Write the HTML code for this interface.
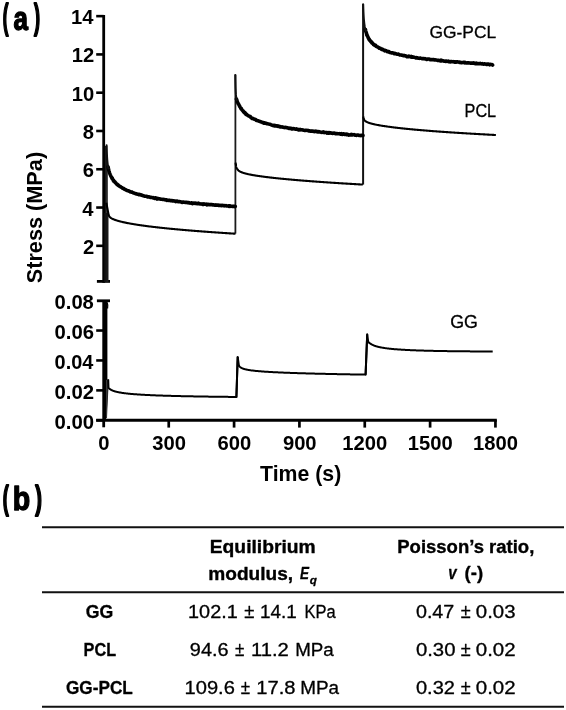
<!DOCTYPE html>
<html><head><meta charset="utf-8"><style>
html,body{margin:0;padding:0;background:#fff;}
body{width:566px;height:710px;overflow:hidden;}
svg{position:absolute;left:0;top:0;filter:grayscale(1) blur(0.3px);}
text{fill:#000;font-family:"Liberation Sans",sans-serif;}
</style></head><body>
<svg width="566" height="710" viewBox="0 0 566 710">
<line x1="103.7" y1="14.9" x2="103.7" y2="282.8" stroke="#000" stroke-width="2.8"/>
<line x1="96.2" y1="16.14" x2="103.7" y2="16.14" stroke="#000" stroke-width="2.6"/>
<line x1="96.2" y1="54.42" x2="103.7" y2="54.42" stroke="#000" stroke-width="2.6"/>
<line x1="96.2" y1="92.70" x2="103.7" y2="92.70" stroke="#000" stroke-width="2.6"/>
<line x1="96.2" y1="130.98" x2="103.7" y2="130.98" stroke="#000" stroke-width="2.6"/>
<line x1="96.2" y1="169.26" x2="103.7" y2="169.26" stroke="#000" stroke-width="2.6"/>
<line x1="96.2" y1="207.54" x2="103.7" y2="207.54" stroke="#000" stroke-width="2.6"/>
<line x1="96.2" y1="245.82" x2="103.7" y2="245.82" stroke="#000" stroke-width="2.6"/>
<line x1="96.9" y1="281.4" x2="110" y2="281.4" stroke="#000" stroke-width="2.8"/>
<line x1="103.7" y1="300.8" x2="103.7" y2="427.3" stroke="#000" stroke-width="2.8"/>
<line x1="96.9" y1="300.8" x2="110" y2="300.8" stroke="#000" stroke-width="2.8"/>
<line x1="96.2" y1="330.53" x2="103.7" y2="330.53" stroke="#000" stroke-width="2.6"/>
<line x1="96.2" y1="360.45" x2="103.7" y2="360.45" stroke="#000" stroke-width="2.6"/>
<line x1="96.2" y1="390.38" x2="103.7" y2="390.38" stroke="#000" stroke-width="2.6"/>
<line x1="96.2" y1="420.30" x2="103.7" y2="420.30" stroke="#000" stroke-width="2.6"/>
<line x1="96.2" y1="420.3" x2="496.84" y2="420.3" stroke="#000" stroke-width="3.0"/>
<line x1="168.74" y1="420" x2="168.74" y2="427.6" stroke="#000" stroke-width="2.7"/>
<line x1="234.08" y1="420" x2="234.08" y2="427.6" stroke="#000" stroke-width="2.7"/>
<line x1="299.42" y1="420" x2="299.42" y2="427.6" stroke="#000" stroke-width="2.7"/>
<line x1="364.76" y1="420" x2="364.76" y2="427.6" stroke="#000" stroke-width="2.7"/>
<line x1="430.10" y1="420" x2="430.10" y2="427.6" stroke="#000" stroke-width="2.7"/>
<line x1="495.44" y1="420" x2="495.44" y2="427.6" stroke="#000" stroke-width="2.7"/>
<rect x="105" y="146" width="2.6" height="136" fill="#8a8a8a"/>
<line x1="105.6" y1="146" x2="105.6" y2="282" stroke="#111" stroke-width="1.0"/>
<line x1="107.3" y1="158" x2="107.3" y2="282" stroke="#222" stroke-width="0.9"/>
<rect x="104.5" y="213" width="4" height="69" fill="#1a1a1a"/>
<rect x="104.5" y="301" width="2.9" height="80" fill="#000"/>
<rect x="104.5" y="380" width="1.7" height="40" fill="#000"/>
<path d="M106,380 L108.8,379 L106.4,418 L106,418 Z" fill="#3a3a3a"/>
<line x1="108.3" y1="379.5" x2="106.5" y2="418" stroke="#222" stroke-width="0.9"/>
<path d="M107.2,302.5 Q108.2,305 107.6,308.5" fill="none" stroke="#000" stroke-width="1.2"/>
<line x1="235.4" y1="233.6" x2="235.4" y2="74.6" stroke="#1a1a1a" stroke-width="1.8"/>
<line x1="363.1" y1="184.6" x2="363.1" y2="4.0" stroke="#111" stroke-width="2.0"/>
<line x1="105.7" y1="282" x2="106.5" y2="145.3" stroke="#111" stroke-width="1.0"/>
<line x1="236.4" y1="397.4" x2="237.7" y2="356.9" stroke="#000" stroke-width="2"/>
<line x1="365.6" y1="374.8" x2="367.2" y2="334.3" stroke="#000" stroke-width="2"/>
<path d="M106.3,202.7 L108.60,214.63 108.84,215.47 109.09,216.02 109.20,216.22 109.33,216.43 109.58,216.76 109.80,217.01 109.82,217.04 110.07,217.28 110.31,217.49 110.40,217.56 110.56,217.69 110.80,217.87 111.00,218.00 111.05,218.03 111.29,218.19 111.54,218.33 111.60,218.37 111.78,218.47 112.03,218.60 112.20,218.69 112.27,218.73 112.52,218.85 112.76,218.96 112.80,218.98 113.01,219.07 113.25,219.18 113.40,219.25 113.50,219.29 113.74,219.39 113.99,219.49 114.00,219.49 114.23,219.58 114.48,219.68 114.60,219.72 114.72,219.77 114.97,219.86 115.20,219.94 115.21,219.95 115.46,220.03 115.70,220.12 115.80,220.15 115.95,220.20 116.19,220.28 116.40,220.35 116.44,220.36 116.68,220.44 116.93,220.51 117.00,220.53 117.17,220.59 117.42,220.66 117.60,220.72 117.66,220.73 117.91,220.81 118.15,220.88 118.20,220.89 118.40,220.95 118.64,221.01 118.80,221.06 118.89,221.08 119.13,221.15 119.38,221.21 119.40,221.22 119.62,221.28 119.87,221.34 120.00,221.38 120.11,221.41 120.36,221.47 120.60,221.53 121.20,221.68 121.80,221.83 122.40,221.97 123.00,222.11 123.60,222.24 124.20,222.37 124.80,222.50 125.40,222.63 126.00,222.75 126.60,222.87 127.20,222.99 127.80,223.11 128.40,223.23 129.00,223.34 129.60,223.45 130.20,223.56 130.80,223.67 131.40,223.77 132.00,223.88 132.60,223.98 133.20,224.08 133.80,224.18 134.40,224.28 135.00,224.38 135.60,224.48 136.20,224.57 136.80,224.67 137.40,224.76 138.00,224.85 138.60,224.94 139.20,225.03 139.80,225.12 140.40,225.21 141.00,225.29 141.60,225.38 142.20,225.46 142.80,225.55 143.40,225.63 144.00,225.71 144.60,225.79 145.20,225.87 145.80,225.95 146.40,226.03 147.00,226.11 147.60,226.19 148.20,226.27 148.80,226.34 149.40,226.42 150.00,226.49 150.60,226.57 151.20,226.64 151.80,226.71 152.40,226.79 153.00,226.86 153.60,226.93 154.20,227.00 154.80,227.07 155.40,227.14 156.00,227.21 156.60,227.28 157.20,227.35 157.80,227.41 158.40,227.48 159.00,227.55 159.60,227.61 160.20,227.68 160.80,227.74 161.40,227.81 162.00,227.87 162.60,227.94 163.20,228.00 163.80,228.06 164.40,228.13 165.00,228.19 165.60,228.25 166.20,228.31 166.80,228.37 167.40,228.43 168.00,228.49 168.60,228.55 169.20,228.61 169.80,228.67 170.40,228.73 171.00,228.79 171.60,228.85 172.20,228.90 172.80,228.96 173.40,229.02 174.00,229.08 174.60,229.13 175.20,229.19 175.80,229.24 176.40,229.30 177.00,229.36 177.60,229.41 178.20,229.46 178.80,229.52 179.40,229.57 180.00,229.63 180.60,229.68 181.20,229.73 181.80,229.79 182.40,229.84 183.00,229.89 183.60,229.94 184.20,230.00 184.80,230.05 185.40,230.10 186.00,230.15 186.60,230.20 187.20,230.25 187.80,230.30 188.40,230.35 189.00,230.40 189.60,230.45 190.20,230.50 190.80,230.55 191.40,230.60 192.00,230.65 192.60,230.70 193.20,230.75 193.80,230.79 194.40,230.84 195.00,230.89 195.60,230.94 196.20,230.99 196.80,231.03 197.40,231.08 198.00,231.13 198.60,231.17 199.20,231.22 199.80,231.27 200.40,231.31 201.00,231.36 201.60,231.40 202.20,231.45 202.80,231.49 203.40,231.54 204.00,231.58 204.60,231.63 205.20,231.67 205.80,231.72 206.40,231.76 207.00,231.81 207.60,231.85 208.20,231.89 208.80,231.94 209.40,231.98 210.00,232.02 210.60,232.07 211.20,232.11 211.80,232.15 212.40,232.19 213.00,232.24 213.60,232.28 214.20,232.32 214.80,232.36 215.40,232.40 216.00,232.45 216.60,232.49 217.20,232.53 217.80,232.57 218.40,232.61 219.00,232.65 219.60,232.69 220.20,232.73 220.80,232.77 221.40,232.81 222.00,232.85 222.60,232.89 223.20,232.93 223.80,232.97 224.40,233.01 225.00,233.05 225.60,233.09 226.20,233.13 226.80,233.17 227.40,233.21 228.00,233.25 228.60,233.29 229.20,233.33 229.80,233.37 230.40,233.40 231.00,233.44 231.60,233.48 232.20,233.52 232.80,233.56 233.40,233.59 234.00,233.63 234.60,233.67 235.20,233.71 235.50,233.73 M235.60,162.55 235.84,164.77 236.09,166.13 236.20,166.60 236.33,167.08 236.58,167.79 236.80,168.31 236.82,168.36 237.07,168.82 237.31,169.21 237.40,169.33 237.56,169.54 237.80,169.83 238.00,170.04 238.05,170.09 238.29,170.33 238.54,170.54 238.60,170.59 238.78,170.73 239.03,170.91 239.20,171.03 239.27,171.08 239.52,171.24 239.76,171.38 239.80,171.40 240.01,171.52 240.25,171.65 240.40,171.72 240.50,171.77 240.74,171.89 240.99,172.00 241.00,172.01 241.23,172.11 241.48,172.21 241.60,172.26 241.72,172.31 241.97,172.41 242.20,172.49 242.21,172.50 242.46,172.59 242.70,172.67 242.80,172.71 242.95,172.76 243.19,172.84 243.40,172.90 243.44,172.92 243.68,172.99 243.93,173.07 244.00,173.09 244.17,173.14 244.42,173.21 244.60,173.27 244.66,173.28 244.91,173.35 245.15,173.42 245.20,173.43 245.40,173.48 245.64,173.55 245.80,173.59 245.89,173.61 246.13,173.67 246.38,173.73 246.40,173.74 246.62,173.79 246.87,173.85 247.00,173.88 247.11,173.91 247.36,173.97 247.60,174.02 248.20,174.16 248.80,174.29 249.40,174.41 250.00,174.53 250.60,174.65 251.20,174.77 251.80,174.88 252.40,174.99 253.00,175.09 253.60,175.20 254.20,175.30 254.80,175.40 255.40,175.50 256.00,175.59 256.60,175.69 257.20,175.78 257.80,175.87 258.40,175.96 259.00,176.05 259.60,176.13 260.20,176.22 260.80,176.30 261.40,176.39 262.00,176.47 262.60,176.55 263.20,176.63 263.80,176.71 264.40,176.79 265.00,176.86 265.60,176.94 266.20,177.01 266.80,177.09 267.40,177.16 268.00,177.24 268.60,177.31 269.20,177.38 269.80,177.45 270.40,177.52 271.00,177.59 271.60,177.66 272.20,177.72 272.80,177.79 273.40,177.86 274.00,177.92 274.60,177.99 275.20,178.05 275.80,178.12 276.40,178.18 277.00,178.24 277.60,178.31 278.20,178.37 278.80,178.43 279.40,178.49 280.00,178.55 280.60,178.61 281.20,178.67 281.80,178.73 282.40,178.79 283.00,178.85 283.60,178.91 284.20,178.97 284.80,179.02 285.40,179.08 286.00,179.14 286.60,179.19 287.20,179.25 287.80,179.30 288.40,179.36 289.00,179.41 289.60,179.47 290.20,179.52 290.80,179.58 291.40,179.63 292.00,179.68 292.60,179.74 293.20,179.79 293.80,179.84 294.40,179.89 295.00,179.95 295.60,180.00 296.20,180.05 296.80,180.10 297.40,180.15 298.00,180.20 298.60,180.25 299.20,180.30 299.80,180.35 300.40,180.40 301.00,180.45 301.60,180.50 302.20,180.54 302.80,180.59 303.40,180.64 304.00,180.69 304.60,180.74 305.20,180.78 305.80,180.83 306.40,180.88 307.00,180.92 307.60,180.97 308.20,181.02 308.80,181.06 309.40,181.11 310.00,181.15 310.60,181.20 311.20,181.25 311.80,181.29 312.40,181.34 313.00,181.38 313.60,181.42 314.20,181.47 314.80,181.51 315.40,181.56 316.00,181.60 316.60,181.64 317.20,181.69 317.80,181.73 318.40,181.77 319.00,181.82 319.60,181.86 320.20,181.90 320.80,181.94 321.40,181.99 322.00,182.03 322.60,182.07 323.20,182.11 323.80,182.15 324.40,182.19 325.00,182.23 325.60,182.28 326.20,182.32 326.80,182.36 327.40,182.40 328.00,182.44 328.60,182.48 329.20,182.52 329.80,182.56 330.40,182.60 331.00,182.64 331.60,182.68 332.20,182.72 332.80,182.76 333.40,182.80 334.00,182.84 334.60,182.87 335.20,182.91 335.80,182.95 336.40,182.99 337.00,183.03 337.60,183.07 338.20,183.10 338.80,183.14 339.40,183.18 340.00,183.22 340.60,183.26 341.20,183.29 341.80,183.33 342.40,183.37 343.00,183.41 343.60,183.44 344.20,183.48 344.80,183.52 345.40,183.55 346.00,183.59 346.60,183.63 347.20,183.66 347.80,183.70 348.40,183.73 349.00,183.77 349.60,183.81 350.20,183.84 350.80,183.88 351.40,183.91 352.00,183.95 352.60,183.98 353.20,184.02 353.80,184.05 354.40,184.09 355.00,184.12 355.60,184.16 356.20,184.19 356.80,184.23 357.40,184.26 358.00,184.30 358.60,184.33 359.20,184.37 359.80,184.40 360.40,184.44 361.00,184.47 361.60,184.50 362.20,184.54 362.80,184.57 362.90,184.58 M363.4,116.6 L363.50,117.66 363.74,118.70 363.99,119.35 364.10,119.57 364.23,119.82 364.48,120.18 364.70,120.45 364.72,120.48 364.97,120.73 365.21,120.95 365.30,121.02 365.46,121.15 365.70,121.32 365.90,121.45 365.95,121.49 366.19,121.63 366.44,121.77 366.50,121.81 366.68,121.90 366.93,122.02 367.10,122.10 367.17,122.14 367.42,122.25 367.66,122.35 367.70,122.37 367.91,122.45 368.15,122.55 368.30,122.61 368.40,122.64 368.64,122.73 368.89,122.82 368.90,122.82 369.13,122.90 369.38,122.99 369.50,123.03 369.62,123.06 369.87,123.14 370.10,123.21 370.11,123.22 370.36,123.29 370.60,123.36 370.70,123.39 370.85,123.43 371.09,123.50 371.30,123.56 371.34,123.57 371.58,123.64 371.83,123.70 371.90,123.72 372.07,123.76 372.32,123.83 372.50,123.87 372.56,123.89 372.81,123.95 373.05,124.01 373.10,124.02 373.30,124.07 373.54,124.12 373.70,124.16 373.79,124.18 374.03,124.24 374.28,124.29 374.30,124.30 374.52,124.35 374.77,124.40 374.90,124.43 375.01,124.45 375.26,124.50 375.50,124.56 376.10,124.68 376.70,124.80 377.30,124.92 377.90,125.03 378.50,125.14 379.10,125.25 379.70,125.36 380.30,125.47 380.90,125.57 381.50,125.67 382.10,125.77 382.70,125.86 383.30,125.96 383.90,126.05 384.50,126.14 385.10,126.23 385.70,126.32 386.30,126.41 386.90,126.50 387.50,126.58 388.10,126.67 388.70,126.75 389.30,126.83 389.90,126.91 390.50,126.99 391.10,127.07 391.70,127.15 392.30,127.22 392.90,127.30 393.50,127.37 394.10,127.45 394.70,127.52 395.30,127.59 395.90,127.66 396.50,127.73 397.10,127.81 397.70,127.87 398.30,127.94 398.90,128.01 399.50,128.08 400.10,128.15 400.70,128.21 401.30,128.28 401.90,128.34 402.50,128.41 403.10,128.47 403.70,128.53 404.30,128.60 404.90,128.66 405.50,128.72 406.10,128.78 406.70,128.84 407.30,128.90 407.90,128.96 408.50,129.02 409.10,129.08 409.70,129.14 410.30,129.19 410.90,129.25 411.50,129.31 412.10,129.37 412.70,129.42 413.30,129.48 413.90,129.53 414.50,129.59 415.10,129.64 415.70,129.70 416.30,129.75 416.90,129.80 417.50,129.86 418.10,129.91 418.70,129.96 419.30,130.01 419.90,130.07 420.50,130.12 421.10,130.17 421.70,130.22 422.30,130.27 422.90,130.32 423.50,130.37 424.10,130.42 424.70,130.47 425.30,130.52 425.90,130.57 426.50,130.62 427.10,130.66 427.70,130.71 428.30,130.76 428.90,130.81 429.50,130.85 430.10,130.90 430.70,130.95 431.30,131.00 431.90,131.04 432.50,131.09 433.10,131.13 433.70,131.18 434.30,131.22 434.90,131.27 435.50,131.31 436.10,131.36 436.70,131.40 437.30,131.45 437.90,131.49 438.50,131.53 439.10,131.58 439.70,131.62 440.30,131.66 440.90,131.71 441.50,131.75 442.10,131.79 442.70,131.84 443.30,131.88 443.90,131.92 444.50,131.96 445.10,132.00 445.70,132.04 446.30,132.09 446.90,132.13 447.50,132.17 448.10,132.21 448.70,132.25 449.30,132.29 449.90,132.33 450.50,132.37 451.10,132.41 451.70,132.45 452.30,132.49 452.90,132.53 453.50,132.57 454.10,132.61 454.70,132.64 455.30,132.68 455.90,132.72 456.50,132.76 457.10,132.80 457.70,132.84 458.30,132.87 458.90,132.91 459.50,132.95 460.10,132.99 460.70,133.02 461.30,133.06 461.90,133.10 462.50,133.14 463.10,133.17 463.70,133.21 464.30,133.25 464.90,133.28 465.50,133.32 466.10,133.36 466.70,133.39 467.30,133.43 467.90,133.46 468.50,133.50 469.10,133.53 469.70,133.57 470.30,133.60 470.90,133.64 471.50,133.68 472.10,133.71 472.70,133.74 473.30,133.78 473.90,133.81 474.50,133.85 475.10,133.88 475.70,133.92 476.30,133.95 476.90,133.99 477.50,134.02 478.10,134.05 478.70,134.09 479.30,134.12 479.90,134.15 480.50,134.19 481.10,134.22 481.70,134.25 482.30,134.29 482.90,134.32 483.50,134.35 484.10,134.39 484.70,134.42 485.30,134.45 485.90,134.48 486.50,134.52 487.10,134.55 487.70,134.58 488.30,134.61 488.90,134.64 489.50,134.68 490.10,134.71 490.70,134.74 491.30,134.77 491.90,134.80 492.50,134.83 493.10,134.86 493.70,134.90 494.30,134.93 494.90,134.96 495.50,134.99 495.90,135.01" fill="none" stroke="#000" stroke-width="2.1" stroke-linejoin="round"/>
<path d="M108.2,379.5 L108.50,387.99 108.74,388.12 108.99,388.33 109.10,388.42 109.23,388.54 109.48,388.74 109.70,388.92 109.72,388.94 109.97,389.12 110.21,389.30 110.30,389.35 110.46,389.46 110.70,389.61 110.90,389.73 110.95,389.76 111.19,389.89 111.44,390.02 111.50,390.05 111.68,390.15 111.93,390.26 112.10,390.34 112.17,390.37 112.42,390.48 112.66,390.58 112.70,390.60 112.91,390.68 113.15,390.78 113.30,390.83 113.40,390.87 113.64,390.96 113.89,391.04 113.90,391.05 114.13,391.12 114.38,391.20 114.50,391.24 114.62,391.28 114.87,391.35 115.10,391.42 115.11,391.42 115.36,391.49 115.60,391.56 115.70,391.59 115.85,391.63 116.09,391.69 116.30,391.74 116.34,391.75 116.58,391.81 116.83,391.87 116.90,391.89 117.07,391.93 117.32,391.99 117.50,392.03 117.56,392.04 117.81,392.09 118.05,392.15 118.10,392.16 118.30,392.20 118.54,392.25 118.70,392.28 118.79,392.30 119.03,392.34 119.28,392.39 119.30,392.40 119.52,392.44 119.77,392.48 119.90,392.51 120.01,392.53 120.26,392.57 120.50,392.61 121.10,392.71 121.70,392.81 122.30,392.90 122.90,392.99 123.50,393.07 124.10,393.15 124.70,393.23 125.30,393.31 125.90,393.38 126.50,393.45 127.10,393.52 127.70,393.58 128.30,393.65 128.90,393.71 129.50,393.77 130.10,393.83 130.70,393.88 131.30,393.94 131.90,393.99 132.50,394.04 133.10,394.09 133.70,394.14 134.30,394.19 134.90,394.24 135.50,394.28 136.10,394.33 136.70,394.37 137.30,394.41 137.90,394.45 138.50,394.49 139.10,394.53 139.70,394.57 140.30,394.61 140.90,394.65 141.50,394.68 142.10,394.72 142.70,394.75 143.30,394.79 143.90,394.82 144.50,394.85 145.10,394.89 145.70,394.92 146.30,394.95 146.90,394.98 147.50,395.01 148.10,395.04 148.70,395.07 149.30,395.10 149.90,395.12 150.50,395.15 151.10,395.18 151.70,395.21 152.30,395.23 152.90,395.26 153.50,395.28 154.10,395.31 154.70,395.33 155.30,395.36 155.90,395.38 156.50,395.40 157.10,395.43 157.70,395.45 158.30,395.47 158.90,395.49 159.50,395.51 160.10,395.54 160.70,395.56 161.30,395.58 161.90,395.60 162.50,395.62 163.10,395.64 163.70,395.66 164.30,395.68 164.90,395.70 165.50,395.71 166.10,395.73 166.70,395.75 167.30,395.77 167.90,395.79 168.50,395.80 169.10,395.82 169.70,395.84 170.30,395.86 170.90,395.87 171.50,395.89 172.10,395.91 172.70,395.92 173.30,395.94 173.90,395.95 174.50,395.97 175.10,395.98 175.70,396.00 176.30,396.01 176.90,396.03 177.50,396.04 178.10,396.06 178.70,396.07 179.30,396.09 179.90,396.10 180.50,396.11 181.10,396.13 181.70,396.14 182.30,396.16 182.90,396.17 183.50,396.18 184.10,396.19 184.70,396.21 185.30,396.22 185.90,396.23 186.50,396.25 187.10,396.26 187.70,396.27 188.30,396.28 188.90,396.29 189.50,396.31 190.10,396.32 190.70,396.33 191.30,396.34 191.90,396.35 192.50,396.36 193.10,396.37 193.70,396.38 194.30,396.40 194.90,396.41 195.50,396.42 196.10,396.43 196.70,396.44 197.30,396.45 197.90,396.46 198.50,396.47 199.10,396.48 199.70,396.49 200.30,396.50 200.90,396.51 201.50,396.52 202.10,396.53 202.70,396.54 203.30,396.55 203.90,396.56 204.50,396.57 205.10,396.57 205.70,396.58 206.30,396.59 206.90,396.60 207.50,396.61 208.10,396.62 208.70,396.63 209.30,396.64 209.90,396.64 210.50,396.65 211.10,396.66 211.70,396.67 212.30,396.68 212.90,396.69 213.50,396.69 214.10,396.70 214.70,396.71 215.30,396.72 215.90,396.73 216.50,396.73 217.10,396.74 217.70,396.75 218.30,396.76 218.90,396.76 219.50,396.77 220.10,396.78 220.70,396.79 221.30,396.79 221.90,396.80 222.50,396.81 223.10,396.81 223.70,396.82 224.30,396.83 224.90,396.84 225.50,396.84 226.10,396.85 226.70,396.86 227.30,396.86 227.90,396.87 228.50,396.88 229.10,396.88 229.70,396.89 230.30,396.90 230.90,396.90 231.50,396.91 232.10,396.91 232.70,396.92 233.30,396.93 233.90,396.93 234.50,396.94 235.10,396.95 235.70,396.95 236.30,396.96 236.40,396.96 L237.7,356.9 L238.80,364.77 239.04,365.47 239.29,365.96 239.40,366.14 239.53,366.34 239.78,366.65 240.00,366.89 240.02,366.91 240.27,367.14 240.51,367.34 240.60,367.40 240.76,367.52 241.00,367.68 241.20,367.80 241.25,367.83 241.49,367.96 241.74,368.09 241.80,368.12 241.98,368.20 242.23,368.31 242.40,368.39 242.47,368.42 242.72,368.51 242.96,368.61 243.00,368.62 243.21,368.69 243.45,368.78 243.60,368.82 243.70,368.86 243.94,368.93 244.19,369.00 244.20,369.01 244.43,369.07 244.68,369.14 244.80,369.17 244.92,369.21 245.17,369.27 245.40,369.33 245.41,369.33 245.66,369.39 245.90,369.44 246.00,369.47 246.15,369.50 246.39,369.55 246.60,369.59 246.64,369.60 246.88,369.65 247.13,369.70 247.20,369.72 247.37,369.75 247.62,369.79 247.80,369.83 247.86,369.84 248.11,369.88 248.35,369.93 248.40,369.93 248.60,369.97 248.84,370.01 249.00,370.03 249.09,370.05 249.33,370.09 249.58,370.13 249.60,370.13 249.82,370.16 250.07,370.20 250.20,370.22 250.31,370.24 250.56,370.27 250.80,370.31 251.40,370.39 252.00,370.47 252.60,370.54 253.20,370.61 253.80,370.68 254.40,370.75 255.00,370.82 255.60,370.88 256.20,370.94 256.80,371.00 257.40,371.05 258.00,371.11 258.60,371.16 259.20,371.21 259.80,371.27 260.40,371.31 261.00,371.36 261.60,371.41 262.20,371.46 262.80,371.50 263.40,371.54 264.00,371.59 264.60,371.63 265.20,371.67 265.80,371.71 266.40,371.75 267.00,371.79 267.60,371.82 268.20,371.86 268.80,371.90 269.40,371.93 270.00,371.97 270.60,372.00 271.20,372.04 271.80,372.07 272.40,372.10 273.00,372.13 273.60,372.16 274.20,372.20 274.80,372.23 275.40,372.26 276.00,372.29 276.60,372.32 277.20,372.34 277.80,372.37 278.40,372.40 279.00,372.43 279.60,372.46 280.20,372.48 280.80,372.51 281.40,372.53 282.00,372.56 282.60,372.59 283.20,372.61 283.80,372.64 284.40,372.66 285.00,372.68 285.60,372.71 286.20,372.73 286.80,372.76 287.40,372.78 288.00,372.80 288.60,372.82 289.20,372.85 289.80,372.87 290.40,372.89 291.00,372.91 291.60,372.93 292.20,372.95 292.80,372.98 293.40,373.00 294.00,373.02 294.60,373.04 295.20,373.06 295.80,373.08 296.40,373.10 297.00,373.12 297.60,373.14 298.20,373.15 298.80,373.17 299.40,373.19 300.00,373.21 300.60,373.23 301.20,373.25 301.80,373.27 302.40,373.28 303.00,373.30 303.60,373.32 304.20,373.34 304.80,373.35 305.40,373.37 306.00,373.39 306.60,373.41 307.20,373.42 307.80,373.44 308.40,373.46 309.00,373.47 309.60,373.49 310.20,373.50 310.80,373.52 311.40,373.54 312.00,373.55 312.60,373.57 313.20,373.58 313.80,373.60 314.40,373.61 315.00,373.63 315.60,373.64 316.20,373.66 316.80,373.67 317.40,373.69 318.00,373.70 318.60,373.72 319.20,373.73 319.80,373.75 320.40,373.76 321.00,373.78 321.60,373.79 322.20,373.80 322.80,373.82 323.40,373.83 324.00,373.85 324.60,373.86 325.20,373.87 325.80,373.89 326.40,373.90 327.00,373.91 327.60,373.93 328.20,373.94 328.80,373.95 329.40,373.97 330.00,373.98 330.60,373.99 331.20,374.00 331.80,374.02 332.40,374.03 333.00,374.04 333.60,374.05 334.20,374.07 334.80,374.08 335.40,374.09 336.00,374.10 336.60,374.11 337.20,374.13 337.80,374.14 338.40,374.15 339.00,374.16 339.60,374.17 340.20,374.19 340.80,374.20 341.40,374.21 342.00,374.22 342.60,374.23 343.20,374.24 343.80,374.26 344.40,374.27 345.00,374.28 345.60,374.29 346.20,374.30 346.80,374.31 347.40,374.32 348.00,374.33 348.60,374.34 349.20,374.35 349.80,374.37 350.40,374.38 351.00,374.39 351.60,374.40 352.20,374.41 352.80,374.42 353.40,374.43 354.00,374.44 354.60,374.45 355.20,374.46 355.80,374.47 356.40,374.48 357.00,374.49 357.60,374.50 358.20,374.51 358.80,374.52 359.40,374.53 360.00,374.54 360.60,374.55 361.20,374.56 361.80,374.57 362.40,374.58 363.00,374.59 363.60,374.60 364.20,374.61 364.80,374.62 365.40,374.63 365.60,374.63 L367.2,334.3 L368.30,342.49 368.54,342.35 368.79,342.43 368.90,342.49 369.03,342.58 369.28,342.77 369.50,342.94 369.52,342.96 369.77,343.16 370.01,343.34 370.10,343.41 370.26,343.52 370.50,343.70 370.70,343.83 370.75,343.86 370.99,344.02 371.24,344.17 371.30,344.21 371.48,344.32 371.73,344.46 371.90,344.55 371.97,344.59 372.22,344.72 372.46,344.85 372.50,344.86 372.71,344.96 372.95,345.08 373.10,345.15 373.20,345.19 373.44,345.30 373.69,345.40 373.70,345.40 373.93,345.50 374.18,345.59 374.30,345.64 374.42,345.69 374.67,345.78 374.90,345.86 374.91,345.86 375.16,345.95 375.40,346.03 375.50,346.06 375.65,346.11 375.89,346.19 376.10,346.25 376.14,346.26 376.38,346.34 376.63,346.41 376.70,346.43 376.87,346.48 377.12,346.55 377.30,346.60 377.36,346.61 377.61,346.68 377.85,346.74 377.90,346.75 378.10,346.80 378.34,346.86 378.50,346.90 378.59,346.92 378.83,346.98 379.08,347.04 379.10,347.04 379.32,347.09 379.57,347.14 379.70,347.17 379.81,347.20 380.06,347.25 380.30,347.30 380.90,347.42 381.50,347.53 382.10,347.64 382.70,347.75 383.30,347.85 383.90,347.94 384.50,348.03 385.10,348.12 385.70,348.21 386.30,348.29 386.90,348.37 387.50,348.44 388.10,348.51 388.70,348.58 389.30,348.65 389.90,348.72 390.50,348.78 391.10,348.84 391.70,348.90 392.30,348.96 392.90,349.02 393.50,349.07 394.10,349.13 394.70,349.18 395.30,349.23 395.90,349.28 396.50,349.32 397.10,349.37 397.70,349.41 398.30,349.46 398.90,349.50 399.50,349.54 400.10,349.58 400.70,349.62 401.30,349.66 401.90,349.70 402.50,349.73 403.10,349.77 403.70,349.81 404.30,349.84 404.90,349.87 405.50,349.91 406.10,349.94 406.70,349.97 407.30,350.00 407.90,350.03 408.50,350.06 409.10,350.09 409.70,350.11 410.30,350.14 410.90,350.17 411.50,350.19 412.10,350.22 412.70,350.25 413.30,350.27 413.90,350.29 414.50,350.32 415.10,350.34 415.70,350.36 416.30,350.39 416.90,350.41 417.50,350.43 418.10,350.45 418.70,350.47 419.30,350.49 419.90,350.51 420.50,350.53 421.10,350.55 421.70,350.57 422.30,350.59 422.90,350.60 423.50,350.62 424.10,350.64 424.70,350.66 425.30,350.67 425.90,350.69 426.50,350.71 427.10,350.72 427.70,350.74 428.30,350.75 428.90,350.77 429.50,350.78 430.10,350.80 430.70,350.81 431.30,350.83 431.90,350.84 432.50,350.85 433.10,350.87 433.70,350.88 434.30,350.89 434.90,350.90 435.50,350.92 436.10,350.93 436.70,350.94 437.30,350.95 437.90,350.97 438.50,350.98 439.10,350.99 439.70,351.00 440.30,351.01 440.90,351.02 441.50,351.03 442.10,351.04 442.70,351.05 443.30,351.06 443.90,351.07 444.50,351.08 445.10,351.09 445.70,351.10 446.30,351.11 446.90,351.12 447.50,351.13 448.10,351.14 448.70,351.14 449.30,351.15 449.90,351.16 450.50,351.17 451.10,351.18 451.70,351.19 452.30,351.19 452.90,351.20 453.50,351.21 454.10,351.22 454.70,351.22 455.30,351.23 455.90,351.24 456.50,351.24 457.10,351.25 457.70,351.26 458.30,351.26 458.90,351.27 459.50,351.28 460.10,351.28 460.70,351.29 461.30,351.30 461.90,351.30 462.50,351.31 463.10,351.31 463.70,351.32 464.30,351.33 464.90,351.33 465.50,351.34 466.10,351.34 466.70,351.35 467.30,351.35 467.90,351.36 468.50,351.36 469.10,351.37 469.70,351.37 470.30,351.38 470.90,351.38 471.50,351.39 472.10,351.39 472.70,351.39 473.30,351.40 473.90,351.40 474.50,351.41 475.10,351.41 475.70,351.42 476.30,351.42 476.90,351.42 477.50,351.43 478.10,351.43 478.70,351.43 479.30,351.44 479.90,351.44 480.50,351.45 481.10,351.45 481.70,351.45 482.30,351.46 482.90,351.46 483.50,351.46 484.10,351.47 484.70,351.47 485.30,351.47 485.90,351.47 486.50,351.48 487.10,351.48 487.70,351.48 488.30,351.49 488.90,351.49 489.50,351.49 490.10,351.49 490.70,351.50 491.30,351.50 491.90,351.50 492.50,351.50 492.70,351.50" fill="none" stroke="#000" stroke-width="2.0" stroke-linejoin="round"/>
<path d="M108.07,166.72 108.31,168.18 108.40,168.52 108.56,168.95 108.80,170.44 109.00,171.11 109.05,171.09 109.29,172.16 109.54,172.89 109.60,173.06 109.78,173.53 110.03,174.30 110.20,174.47 110.27,174.77 110.52,175.28 110.76,176.04 110.80,176.00 111.01,176.37 111.25,176.76 111.40,177.14 111.50,177.38 111.74,177.76 111.99,178.49 112.00,178.45 112.23,178.09 112.48,178.64 112.60,179.17 112.72,179.30 112.97,179.78 113.20,180.11 113.21,180.50 113.46,180.19 113.70,180.65 113.80,181.26 113.95,181.16 114.19,181.46 114.40,181.47 114.44,181.29 114.68,181.93 114.93,182.19 115.00,182.00 115.17,182.29 115.42,182.67 115.60,182.68 115.66,182.91 115.91,183.20 116.15,183.42 116.20,183.36 116.40,183.76 116.64,184.05 116.80,184.07 116.89,183.92 117.13,184.45 117.38,184.41 117.40,184.71 117.62,184.50 117.87,185.10 118.00,185.02 118.11,184.86 118.36,185.24 118.60,185.50 119.20,185.99 119.80,186.17 120.40,186.55 121.00,187.20 121.60,187.44 122.20,187.94 122.80,188.39 123.40,188.24 124.00,188.94 124.60,189.45 125.20,189.44 125.80,189.63 126.40,190.22 127.00,190.40 127.60,190.79 128.20,190.80 128.80,190.82 129.40,191.34 130.00,191.51 130.60,191.99 131.20,192.09 131.80,191.95 132.40,192.25 133.00,192.87 133.60,193.04 134.20,192.97 134.80,193.30 135.40,193.58 136.00,193.77 136.60,194.03 137.20,194.09 137.80,194.19 138.40,194.33 139.00,194.76 139.60,194.27 140.20,194.85 140.80,195.05 141.40,194.91 142.00,195.42 142.60,195.37 143.20,195.82 143.80,195.77 144.40,196.07 145.00,196.32 145.60,196.29 146.20,196.18 146.80,196.19 147.40,196.97 148.00,196.73 148.60,196.74 149.20,197.03 149.80,197.09 150.40,197.42 151.00,197.38 151.60,197.49 152.20,197.47 152.80,197.82 153.40,197.63 154.00,198.08 154.60,198.37 155.20,197.87 155.80,197.79 156.40,198.51 157.00,199.00 157.60,198.40 158.20,198.45 158.80,198.92 159.40,198.73 160.00,198.90 160.60,199.03 161.20,199.30 161.80,199.21 162.40,199.44 163.00,199.44 163.60,199.40 164.20,199.60 164.80,199.56 165.40,199.84 166.00,199.71 166.60,199.80 167.20,200.40 167.80,200.18 168.40,200.27 169.00,200.46 169.60,200.36 170.20,200.48 170.80,200.69 171.40,200.74 172.00,200.54 172.60,201.01 173.20,200.81 173.80,200.79 174.40,200.90 175.00,201.08 175.60,201.56 176.20,201.07 176.80,201.41 177.40,201.02 178.00,201.52 178.60,201.78 179.20,201.62 179.80,201.61 180.40,201.86 181.00,202.02 181.60,202.08 182.20,202.41 182.80,202.13 183.40,202.03 184.00,202.19 184.60,202.27 185.20,202.37 185.80,202.41 186.40,202.51 187.00,202.21 187.60,202.77 188.20,202.56 188.80,202.50 189.40,202.92 190.00,203.12 190.60,203.02 191.20,203.01 191.80,202.85 192.40,203.67 193.00,203.33 193.60,202.99 194.20,203.12 194.80,203.35 195.40,203.08 196.00,203.48 196.60,203.41 197.20,203.81 197.80,203.81 198.40,203.13 199.00,203.74 199.60,203.46 200.20,204.06 200.80,203.93 201.40,204.06 202.00,203.79 202.60,204.42 203.20,204.51 203.80,203.94 204.40,204.28 205.00,204.13 205.60,204.31 206.20,204.11 206.80,204.79 207.40,204.27 208.00,204.45 208.60,204.66 209.20,204.48 209.80,204.61 210.40,204.60 211.00,204.73 211.60,204.57 212.20,204.77 212.80,204.86 213.40,204.88 214.00,205.01 214.60,204.99 215.20,205.24 215.80,205.07 216.40,205.16 217.00,205.10 217.60,205.17 218.20,205.07 218.80,205.47 219.40,205.18 220.00,205.30 220.60,205.57 221.20,205.62 221.80,205.50 222.40,205.22 223.00,205.76 223.60,205.77 224.20,205.47 224.80,205.95 225.40,205.70 226.00,205.66 226.60,205.94 227.20,205.93 227.80,206.05 228.40,205.73 229.00,206.45 229.60,206.01 230.20,205.86 230.80,206.34 231.40,206.18 232.00,206.36 232.60,206.26 233.20,206.36 233.80,206.46 234.40,206.30 235.00,206.62 235.20,206.41 M236.50,99.09 236.52,99.06 236.77,100.11 237.01,100.51 237.10,101.60 237.26,101.88 237.50,102.16 237.70,102.79 237.75,102.80 237.99,103.11 238.24,103.88 238.30,103.73 238.48,104.06 238.73,104.41 238.90,104.97 238.97,104.99 239.22,105.55 239.46,105.75 239.50,105.96 239.71,106.11 239.95,106.86 240.10,106.97 240.20,107.15 240.44,107.55 240.69,107.65 240.70,108.02 240.93,108.63 241.18,108.25 241.30,108.40 241.42,108.62 241.67,109.43 241.90,109.60 241.91,109.80 242.16,110.05 242.40,110.26 242.50,110.40 242.65,110.49 242.89,110.99 243.10,110.84 243.14,111.02 243.38,111.43 243.63,112.02 243.70,111.59 243.87,111.71 244.12,112.07 244.30,112.57 244.36,112.39 244.61,112.95 244.85,112.55 244.90,113.19 245.10,113.36 245.34,113.10 245.50,113.56 245.59,113.85 245.83,113.84 246.08,114.23 246.10,114.53 246.32,114.29 246.57,114.39 246.70,114.40 246.81,114.77 247.06,114.79 247.30,114.99 247.90,115.45 248.50,116.03 249.10,116.09 249.70,116.39 250.30,116.58 250.90,117.66 251.50,117.78 252.10,118.40 252.70,118.41 253.30,118.57 253.90,119.11 254.50,119.28 255.10,119.33 255.70,119.67 256.30,120.46 256.90,120.42 257.50,120.68 258.10,120.78 258.70,120.93 259.30,121.47 259.90,121.49 260.50,121.57 261.10,121.90 261.70,121.95 262.30,122.36 262.90,122.74 263.50,122.54 264.10,123.17 264.70,122.93 265.30,123.27 265.90,123.24 266.50,123.53 267.10,123.75 267.70,123.82 268.30,123.92 268.90,124.08 269.50,124.20 270.10,124.20 270.70,124.61 271.30,124.88 271.90,125.13 272.50,125.21 273.10,125.71 273.70,125.41 274.30,125.39 274.90,125.98 275.50,125.53 276.10,126.05 276.70,125.79 277.30,126.17 277.90,125.83 278.50,126.52 279.10,126.42 279.70,126.37 280.30,127.01 280.90,126.94 281.50,126.91 282.10,126.86 282.70,127.10 283.30,127.18 283.90,127.46 284.50,127.58 285.10,127.39 285.70,127.51 286.30,127.61 286.90,127.55 287.50,127.79 288.10,127.99 288.70,128.24 289.30,128.46 289.90,128.12 290.50,128.49 291.10,128.38 291.70,128.97 292.30,128.63 292.90,128.83 293.50,128.63 294.10,128.74 294.70,129.03 295.30,128.99 295.90,129.22 296.50,128.92 297.10,129.45 297.70,129.22 298.30,129.82 298.90,129.50 299.50,129.85 300.10,129.43 300.70,129.87 301.30,129.69 301.90,129.84 302.50,130.02 303.10,130.03 303.70,130.22 304.30,130.39 304.90,130.44 305.50,130.36 306.10,130.18 306.70,130.36 307.30,130.56 307.90,130.24 308.50,130.89 309.10,130.76 309.70,130.82 310.30,131.13 310.90,131.14 311.50,131.12 312.10,130.94 312.70,131.27 313.30,131.34 313.90,131.16 314.50,131.61 315.10,131.57 315.70,131.14 316.30,131.62 316.90,131.41 317.50,131.95 318.10,131.95 318.70,131.63 319.30,131.73 319.90,131.99 320.50,131.98 321.10,132.40 321.70,132.30 322.30,132.15 322.90,132.39 323.50,131.92 324.10,132.45 324.70,132.62 325.30,132.47 325.90,132.42 326.50,132.73 327.10,133.07 327.70,132.78 328.30,132.57 328.90,133.14 329.50,132.53 330.10,133.06 330.70,132.90 331.30,133.26 331.90,132.96 332.50,133.45 333.10,133.29 333.70,132.94 334.30,132.95 334.90,133.33 335.50,133.71 336.10,133.53 336.70,133.57 337.30,133.56 337.90,133.81 338.50,133.79 339.10,133.82 339.70,133.62 340.30,134.11 340.90,134.19 341.50,133.71 342.10,134.48 342.70,134.22 343.30,134.02 343.90,133.79 344.50,134.35 345.10,134.38 345.70,134.20 346.30,134.01 346.90,134.64 347.50,134.35 348.10,134.42 348.70,135.13 349.30,135.04 349.90,134.85 350.50,134.62 351.10,134.89 351.70,134.35 352.30,134.87 352.90,134.75 353.50,134.69 354.10,134.67 354.70,135.14 355.30,135.10 355.90,135.16 356.50,135.34 357.10,135.05 357.70,135.02 358.30,134.96 358.90,135.29 359.50,135.56 360.10,135.42 360.70,135.62 361.30,135.30 361.90,135.49 362.50,135.47 363.00,135.41 M365.30,29.74 365.50,29.67 365.55,30.47 365.79,31.22 366.04,32.11 366.10,32.37 366.28,32.60 366.53,33.69 366.70,34.05 366.77,35.08 367.02,35.10 367.26,35.58 367.30,35.68 367.51,36.07 367.75,36.52 367.90,36.95 368.00,37.32 368.24,37.65 368.49,38.33 368.50,38.12 368.73,38.57 368.98,39.28 369.10,39.27 369.22,39.25 369.47,39.69 369.70,40.17 369.71,40.46 369.96,40.36 370.20,40.70 370.30,41.07 370.45,40.88 370.69,41.30 370.90,41.79 370.94,41.77 371.18,41.95 371.43,42.34 371.50,41.72 371.67,42.68 371.92,42.54 372.10,42.58 372.16,43.03 372.41,43.36 372.65,43.36 372.70,43.28 372.90,43.69 373.14,43.89 373.30,44.32 373.39,44.27 373.63,44.36 373.88,44.75 373.90,44.51 374.12,44.54 374.37,45.04 374.50,45.14 374.61,45.07 374.86,45.14 375.10,45.52 375.70,45.41 376.30,46.45 376.90,46.79 377.50,46.73 378.10,47.42 378.70,47.55 379.30,48.22 379.90,47.97 380.50,48.49 381.10,49.09 381.70,49.46 382.30,49.06 382.90,49.65 383.50,50.06 384.10,50.11 384.70,50.79 385.30,50.45 385.90,50.98 386.50,50.91 387.10,51.61 387.70,51.53 388.30,51.65 388.90,51.58 389.50,52.44 390.10,52.44 390.70,52.62 391.30,52.87 391.90,52.88 392.50,52.84 393.10,52.97 393.70,53.13 394.30,53.72 394.90,53.31 395.50,53.63 396.10,53.83 396.70,54.08 397.30,54.29 397.90,54.07 398.50,54.11 399.10,54.59 399.70,54.96 400.30,55.00 400.90,55.01 401.50,55.03 402.10,55.28 402.70,55.29 403.30,55.62 403.90,55.41 404.50,55.71 405.10,55.78 405.70,56.02 406.30,56.07 406.90,56.64 407.50,56.54 408.10,56.64 408.70,56.04 409.30,56.48 409.90,56.53 410.50,56.85 411.10,56.39 411.70,57.18 412.30,57.25 412.90,56.87 413.50,57.03 414.10,57.16 414.70,57.42 415.30,57.63 415.90,58.00 416.50,57.64 417.10,57.92 417.70,57.88 418.30,58.28 418.90,58.17 419.50,58.37 420.10,57.97 420.70,58.22 421.30,58.18 421.90,58.72 422.50,58.63 423.10,58.52 423.70,58.57 424.30,58.83 424.90,58.67 425.50,58.70 426.10,59.05 426.70,59.52 427.30,59.06 427.90,59.07 428.50,59.01 429.10,59.05 429.70,59.49 430.30,59.63 430.90,59.53 431.50,59.66 432.10,59.69 432.70,59.76 433.30,59.49 433.90,59.77 434.50,59.95 435.10,59.84 435.70,59.96 436.30,59.96 436.90,60.12 437.50,60.42 438.10,60.23 438.70,60.34 439.30,60.59 439.90,60.62 440.50,60.89 441.10,60.19 441.70,60.84 442.30,60.63 442.90,60.82 443.50,61.01 444.10,61.12 444.70,61.17 445.30,61.05 445.90,61.40 446.50,61.07 447.10,61.16 447.70,61.40 448.30,61.19 448.90,61.78 449.50,61.61 450.10,61.89 450.70,61.51 451.30,61.49 451.90,61.65 452.50,61.82 453.10,61.60 453.70,61.85 454.30,61.82 454.90,62.20 455.50,61.79 456.10,62.18 456.70,61.90 457.30,61.88 457.90,61.98 458.50,61.93 459.10,62.25 459.70,62.48 460.30,62.35 460.90,62.49 461.50,62.74 462.10,62.51 462.70,62.55 463.30,62.50 463.90,62.28 464.50,62.80 465.10,62.34 465.70,62.87 466.30,62.78 466.90,63.05 467.50,62.86 468.10,62.75 468.70,63.03 469.30,62.90 469.90,63.02 470.50,63.10 471.10,63.11 471.70,63.14 472.30,63.06 472.90,63.23 473.50,62.88 474.10,63.32 474.70,63.15 475.30,63.66 475.90,63.73 476.50,63.13 477.10,63.59 477.70,63.58 478.30,63.43 478.90,63.79 479.50,63.63 480.10,63.41 480.70,63.75 481.30,63.81 481.90,63.90 482.50,63.68 483.10,64.08 483.70,64.15 484.30,63.81 484.90,63.95 485.50,64.10 486.10,64.04 486.70,64.54 487.30,64.27 487.90,64.07 488.50,64.15 489.10,64.33 489.70,64.84 490.30,64.38 490.90,64.48 491.50,64.60 492.10,64.52 492.60,65.02" fill="none" stroke="#000" stroke-width="3.6" stroke-linejoin="round" stroke-linecap="round"/>
<path d="M106.60,145.34 106.69,148.73 106.79,151.43 106.88,153.65 106.98,155.52 107.07,157.13 107.17,158.53 107.26,159.77 107.36,160.88 107.45,161.88 107.55,162.78 107.64,163.61 107.74,164.38 107.83,165.08 107.93,165.74 108.02,166.35 108.12,166.92 108.21,167.46 108.31,167.97 108.40,168.46 M235.30,74.96 235.37,79.58 235.45,83.14 235.52,85.95 235.59,88.22 235.67,90.07 235.74,91.60 235.82,92.89 235.89,93.99 235.96,94.93 236.04,95.74 236.11,96.45 236.18,97.07 236.26,97.62 236.33,98.11 236.41,98.55 236.48,98.94 236.55,99.30 236.63,99.63 236.70,99.93 M363.10,4.16 363.24,8.38 363.37,11.61 363.51,14.21 363.65,16.37 363.78,18.20 363.92,19.80 364.06,21.20 364.19,22.45 364.33,23.58 364.47,24.60 364.61,25.53 364.74,26.39 364.88,27.19 365.02,27.93 365.15,28.62 365.29,29.26 365.43,29.87 365.56,30.44 365.70,30.98" fill="none" stroke="#111" stroke-width="2.0" stroke-linejoin="round" stroke-linecap="round"/>
<text x="70.92" y="24.14" font-size="20.2" font-weight="bold">14</text>
<text x="71.67" y="62.42" font-size="20.2" font-weight="bold">12</text>
<text x="71.67" y="100.70" font-size="20.2" font-weight="bold">10</text>
<text x="82.67" y="138.98" font-size="20.2" font-weight="bold">8</text>
<text x="82.80" y="177.26" font-size="20.2" font-weight="bold">6</text>
<text x="82.17" y="215.54" font-size="20.2" font-weight="bold">4</text>
<text x="82.92" y="253.82" font-size="20.2" font-weight="bold">2</text>
<text x="54.55" y="309.20" font-size="20.2" font-weight="bold" textLength="39.31" lengthAdjust="spacingAndGlyphs">0.08</text>
<text x="54.55" y="339.13" font-size="20.2" font-weight="bold" textLength="39.44" lengthAdjust="spacingAndGlyphs">0.06</text>
<text x="54.56" y="369.05" font-size="20.2" font-weight="bold" textLength="38.80" lengthAdjust="spacingAndGlyphs">0.04</text>
<text x="54.55" y="398.98" font-size="20.2" font-weight="bold" textLength="39.57" lengthAdjust="spacingAndGlyphs">0.02</text>
<text x="54.55" y="428.90" font-size="20.2" font-weight="bold" textLength="39.57" lengthAdjust="spacingAndGlyphs">0.00</text>
<text x="98.14" y="450.20" font-size="20.2" font-weight="bold">0</text>
<text x="152.35" y="450.20" font-size="20.2" font-weight="bold">300</text>
<text x="217.57" y="450.20" font-size="20.2" font-weight="bold">600</text>
<text x="282.91" y="450.20" font-size="20.2" font-weight="bold">900</text>
<text x="342.37" y="450.20" font-size="20.2" font-weight="bold">1200</text>
<text x="407.71" y="450.20" font-size="20.2" font-weight="bold">1500</text>
<text x="473.05" y="450.20" font-size="20.2" font-weight="bold">1800</text>
<text x="260.05" y="481.00" font-size="21.5" font-weight="bold" textLength="81.18" lengthAdjust="spacingAndGlyphs">Time (s)</text>
<text x="2.68" y="29.00" font-size="34.3" font-weight="bold" textLength="5.70" lengthAdjust="spacingAndGlyphs" stroke="#000" stroke-width="2.1" stroke-linejoin="round">(</text>
<text x="13.41" y="29.90" font-size="33" font-weight="bold" textLength="14.47" lengthAdjust="spacingAndGlyphs" stroke="#000" stroke-width="1.4" stroke-linejoin="round">a</text>
<text x="34.08" y="29.00" font-size="34.3" font-weight="bold" textLength="6.05" lengthAdjust="spacingAndGlyphs" stroke="#000" stroke-width="2.1" stroke-linejoin="round">)</text>
<text x="2.63" y="508.70" font-size="34.1" font-weight="bold" textLength="5.98" lengthAdjust="spacingAndGlyphs" stroke="#000" stroke-width="2.1" stroke-linejoin="round">(</text>
<text x="12.79" y="509.80" font-size="33.7" font-weight="bold" textLength="17.44" lengthAdjust="spacingAndGlyphs" stroke="#000" stroke-width="1.4" stroke-linejoin="round">b</text>
<text x="35.28" y="508.70" font-size="34.1" font-weight="bold" textLength="6.69" lengthAdjust="spacingAndGlyphs" stroke="#000" stroke-width="2.1" stroke-linejoin="round">)</text>
<text x="429.48" y="38.40" font-size="17.4" font-weight="normal" textLength="66.66" lengthAdjust="spacingAndGlyphs" stroke="#000" stroke-width="0.3" stroke-linejoin="round">GG-PCL</text>
<text x="464.57" y="117.10" font-size="17.5" font-weight="normal" textLength="31.58" lengthAdjust="spacingAndGlyphs" stroke="#000" stroke-width="0.3" stroke-linejoin="round">PCL</text>
<text x="450.19" y="328.40" font-size="18.2" font-weight="normal" textLength="27.74" lengthAdjust="spacingAndGlyphs" stroke="#000" stroke-width="0.3" stroke-linejoin="round">GG</text>
<text x="209.74" y="552.70" font-size="18" font-weight="bold" textLength="105.99" lengthAdjust="spacingAndGlyphs" stroke="#000" stroke-width="0.35" stroke-linejoin="round">Equilibrium</text>
<text x="208.35" y="579.50" font-size="18" font-weight="bold" textLength="84.80" lengthAdjust="spacingAndGlyphs" stroke="#000" stroke-width="0.35" stroke-linejoin="round">modulus,</text>
<text x="299.98" y="579.40" font-size="17.3" font-weight="bold" font-style="italic" textLength="8.98" lengthAdjust="spacingAndGlyphs" stroke="#000" stroke-width="0.35" stroke-linejoin="round">E</text>
<text x="309.84" y="583.60" font-size="10.8" font-weight="bold" font-style="italic" textLength="7.15" lengthAdjust="spacingAndGlyphs" stroke="#000" stroke-width="0.3" stroke-linejoin="round">q</text>
<text x="397.29" y="552.70" font-size="18" font-weight="bold" textLength="137.01" lengthAdjust="spacingAndGlyphs" stroke="#000" stroke-width="0.35" stroke-linejoin="round">Poisson’s ratio,</text>
<text x="448.34" y="579.40" font-size="18" font-weight="bold" font-style="italic" textLength="8.37" lengthAdjust="spacingAndGlyphs" stroke="#000" stroke-width="0.35" stroke-linejoin="round">v</text>
<text x="464.50" y="578.90" font-size="19" font-weight="bold" textLength="18.59" lengthAdjust="spacingAndGlyphs" stroke="#000" stroke-width="0.35" stroke-linejoin="round">(-)</text>
<text x="85.81" y="617.90" font-size="18" font-weight="bold" textLength="27.55" lengthAdjust="spacingAndGlyphs" stroke="#000" stroke-width="0.3" stroke-linejoin="round">GG</text>
<text x="188.09" y="617.90" font-size="17.5" font-weight="normal" textLength="49.66" lengthAdjust="spacingAndGlyphs" stroke="#000" stroke-width="0.3" stroke-linejoin="round">102.1</text>
<text x="244.26" y="617.90" font-size="19.5" font-weight="normal" textLength="10.14" lengthAdjust="spacingAndGlyphs" stroke="#000" stroke-width="0.3" stroke-linejoin="round">±</text>
<text x="259.97" y="617.90" font-size="17.5" font-weight="normal" textLength="36.76" lengthAdjust="spacingAndGlyphs" stroke="#000" stroke-width="0.3" stroke-linejoin="round">14.1</text>
<text x="304.46" y="617.90" font-size="17.5" font-weight="normal" textLength="31.15" lengthAdjust="spacingAndGlyphs" stroke="#000" stroke-width="0.3" stroke-linejoin="round">KPa</text>
<text x="415.95" y="617.90" font-size="17.5" font-weight="normal" textLength="38.36" lengthAdjust="spacingAndGlyphs" stroke="#000" stroke-width="0.3" stroke-linejoin="round">0.47</text>
<text x="460.77" y="617.90" font-size="19.5" font-weight="normal" textLength="9.91" lengthAdjust="spacingAndGlyphs" stroke="#000" stroke-width="0.3" stroke-linejoin="round">±</text>
<text x="475.82" y="617.90" font-size="17.5" font-weight="normal" textLength="39.67" lengthAdjust="spacingAndGlyphs" stroke="#000" stroke-width="0.3" stroke-linejoin="round">0.03</text>
<text x="83.62" y="656.40" font-size="18" font-weight="bold" textLength="32.48" lengthAdjust="spacingAndGlyphs" stroke="#000" stroke-width="0.3" stroke-linejoin="round">PCL</text>
<text x="189.86" y="656.40" font-size="17.5" font-weight="normal" textLength="38.72" lengthAdjust="spacingAndGlyphs" stroke="#000" stroke-width="0.3" stroke-linejoin="round">94.6</text>
<text x="235.10" y="656.40" font-size="19.5" font-weight="normal" textLength="9.35" lengthAdjust="spacingAndGlyphs" stroke="#000" stroke-width="0.3" stroke-linejoin="round">±</text>
<text x="250.96" y="656.40" font-size="17.5" font-weight="normal" textLength="37.92" lengthAdjust="spacingAndGlyphs" stroke="#000" stroke-width="0.3" stroke-linejoin="round">11.2</text>
<text x="295.18" y="656.40" font-size="17.5" font-weight="normal" textLength="38.56" lengthAdjust="spacingAndGlyphs" stroke="#000" stroke-width="0.3" stroke-linejoin="round">MPa</text>
<text x="415.92" y="656.40" font-size="17.5" font-weight="normal" textLength="39.52" lengthAdjust="spacingAndGlyphs" stroke="#000" stroke-width="0.3" stroke-linejoin="round">0.30</text>
<text x="460.77" y="656.40" font-size="19.5" font-weight="normal" textLength="9.91" lengthAdjust="spacingAndGlyphs" stroke="#000" stroke-width="0.3" stroke-linejoin="round">±</text>
<text x="475.82" y="656.40" font-size="17.5" font-weight="normal" textLength="39.82" lengthAdjust="spacingAndGlyphs" stroke="#000" stroke-width="0.3" stroke-linejoin="round">0.02</text>
<text x="65.93" y="694.00" font-size="18" font-weight="bold" textLength="66.89" lengthAdjust="spacingAndGlyphs" stroke="#000" stroke-width="0.3" stroke-linejoin="round">GG-PCL</text>
<text x="184.57" y="694.00" font-size="17.5" font-weight="normal" textLength="50.29" lengthAdjust="spacingAndGlyphs" stroke="#000" stroke-width="0.3" stroke-linejoin="round">109.6</text>
<text x="240.70" y="694.00" font-size="19.5" font-weight="normal" textLength="9.35" lengthAdjust="spacingAndGlyphs" stroke="#000" stroke-width="0.3" stroke-linejoin="round">±</text>
<text x="256.27" y="694.00" font-size="17.5" font-weight="normal" textLength="39.22" lengthAdjust="spacingAndGlyphs" stroke="#000" stroke-width="0.3" stroke-linejoin="round">17.8</text>
<text x="300.16" y="694.00" font-size="17.5" font-weight="normal" textLength="38.87" lengthAdjust="spacingAndGlyphs" stroke="#000" stroke-width="0.3" stroke-linejoin="round">MPa</text>
<text x="415.93" y="694.00" font-size="17.5" font-weight="normal" textLength="38.99" lengthAdjust="spacingAndGlyphs" stroke="#000" stroke-width="0.3" stroke-linejoin="round">0.32</text>
<text x="460.77" y="694.00" font-size="19.5" font-weight="normal" textLength="9.91" lengthAdjust="spacingAndGlyphs" stroke="#000" stroke-width="0.3" stroke-linejoin="round">±</text>
<text x="475.82" y="694.00" font-size="17.5" font-weight="normal" textLength="39.82" lengthAdjust="spacingAndGlyphs" stroke="#000" stroke-width="0.3" stroke-linejoin="round">0.02</text>
<text transform="translate(42.2,283.32) rotate(-90)" x="0" y="0" font-size="22" font-weight="bold" textLength="131.44" lengthAdjust="spacingAndGlyphs">Stress (MPa)</text>
<line x1="42" y1="527.2" x2="564" y2="527.2" stroke="#111" stroke-width="2.1"/>
<line x1="42" y1="592.2" x2="564" y2="592.2" stroke="#111" stroke-width="2.1"/>
<line x1="42" y1="706.8" x2="564" y2="706.8" stroke="#111" stroke-width="2.1"/>
</svg>
</body></html>
